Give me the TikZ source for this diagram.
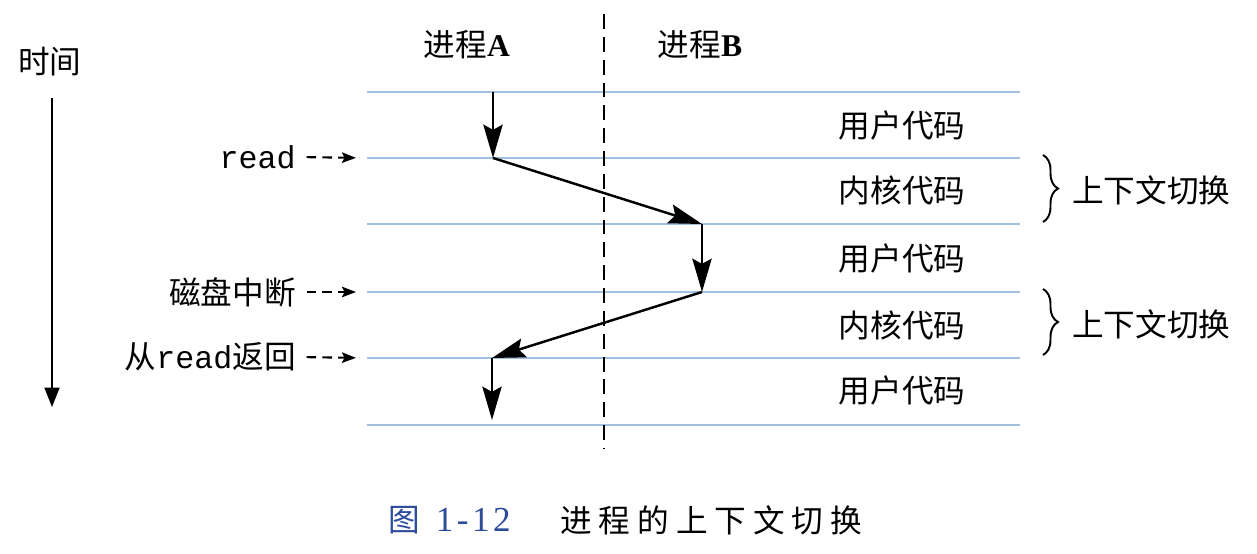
\documentclass[tikz,border=0pt]{standalone}
\usepackage{fontspec}
\setmainfont{Liberation Serif}
\setmonofont{Liberation Mono}
\newfontfamily\cjk{Noto Sans CJK SC}
\newfontfamily\cjkwide[LetterSpace=22]{Noto Sans CJK SC}
\newfontfamily\capnum[LetterSpace=10]{Liberation Serif}
\usetikzlibrary{arrows.meta,decorations.pathreplacing}
\definecolor{levelblue}{RGB}{160,192,224}
\definecolor{capblue}{RGB}{45,75,155}

\begin{document}
\begin{tikzpicture}[x=0.02cm, y=-0.02cm,
    txt/.style={font=\cjk\fontsize{18}{20}\selectfont, inner sep=0pt},
    level/.style={levelblue, line width=0.8pt},
    flow/.style={line width=1.4pt, -{Stealth[length=19pt,width=11pt,inset=3pt]}},
    ptr/.style={line width=1.2pt, dash pattern=on 5.5pt off 3.5pt, shorten >=0.22cm,
      -{Stealth[length=8pt,width=6pt,inset=1.5pt]}},
    brace/.style={decorate, decoration={brace, amplitude=0.3cm}, line width=1.1pt}]
  \useasboundingbox (0,0) rectangle (1257,554);

  % time axis
  \node[txt] (timelbl) at (50,62) {时间};
  \coordinate (ttop) at (52,98);
  \coordinate (tbot) at (52,407);
  \draw[line width=1.1pt, -{Triangle[length=11pt,width=8.5pt]}] (ttop) -- (tbot);

  % the two processes, split by a dashed line
  \node[txt] (procA) at (467,45) {进程{\rmfamily\bfseries A}};
  \node[txt] (procB) at (700,45) {进程{\rmfamily\bfseries B}};
  \coordinate (stop) at (604,14);
  \coordinate (sbot) at (604,448);

  % time levels
  \foreach \i/\y in {0/92,1/158,2/224,3/292,4/358,5/425}{
    \coordinate (l\i) at (367,\y);
    \coordinate (r\i) at (1020,\y);
    \draw[level] (l\i) -- (r\i);
  }
  \draw[line width=1.1pt, dash pattern=on 8.5pt off 4.5pt] (stop) -- (sbot);

  % what runs between the levels
  \node[txt] (user1) at (902,125) {用户代码};
  \node[txt] (kern1) at (902,190) {内核代码};
  \node[txt] (user2) at (902,258) {用户代码};
  \node[txt] (kern2) at (902,325) {内核代码};
  \node[txt] (user3) at (902,390) {用户代码};

  % context switches
  \draw[brace] (1043,155) -- (1043,222);
  \draw[brace] (1043,289) -- (1043,355);
  \node[txt, anchor=west] (switch1) at (1072,190) {上下文切换};
  \node[txt, anchor=west] (switch2) at (1072,324) {上下文切换};

  % events on the left
  \node[txt, anchor=east] (evread) at (296,157) {\texttt{read}};
  \node[txt, anchor=east] (evdisk) at (296,292) {磁盘中断};
  \node[txt, anchor=east] (evret) at (296,357) {从\texttt{read}返回};
  \draw[ptr, shorten <=6pt] (evread.east) -- (l1);
  \draw[ptr, shorten <=6pt] (evdisk.east) -- (l3);
  \draw[ptr, shorten <=6pt] (evret.east) -- (l4);

  % control flow
  \coordinate (a0) at (493,92);
  \coordinate (a1) at (493,158);
  \coordinate (b1) at (702,224);
  \coordinate (b2) at (702,292);
  \coordinate (a2) at (492,358);
  \coordinate (a3) at (492,420);
  \draw[flow] (a0) -- (a1);
  \draw[flow] (a1) -- (b1);
  \draw[flow] (b1) -- (b2);
  \draw[flow] (b2) -- (a2);
  \draw[flow] (a2) -- (a3);

  % caption
  \node[txt, anchor=west, text=capblue] (fignum) at (388,520) {图\hspace{9pt}{\capnum\fontsize{20}{22}\selectfont 1-12}};
  \node[txt, anchor=west, font=\cjkwide\fontsize{18}{20}\selectfont] (figtitle) at (560,520) {进程的上下文切换};
\end{tikzpicture}
\end{document}
